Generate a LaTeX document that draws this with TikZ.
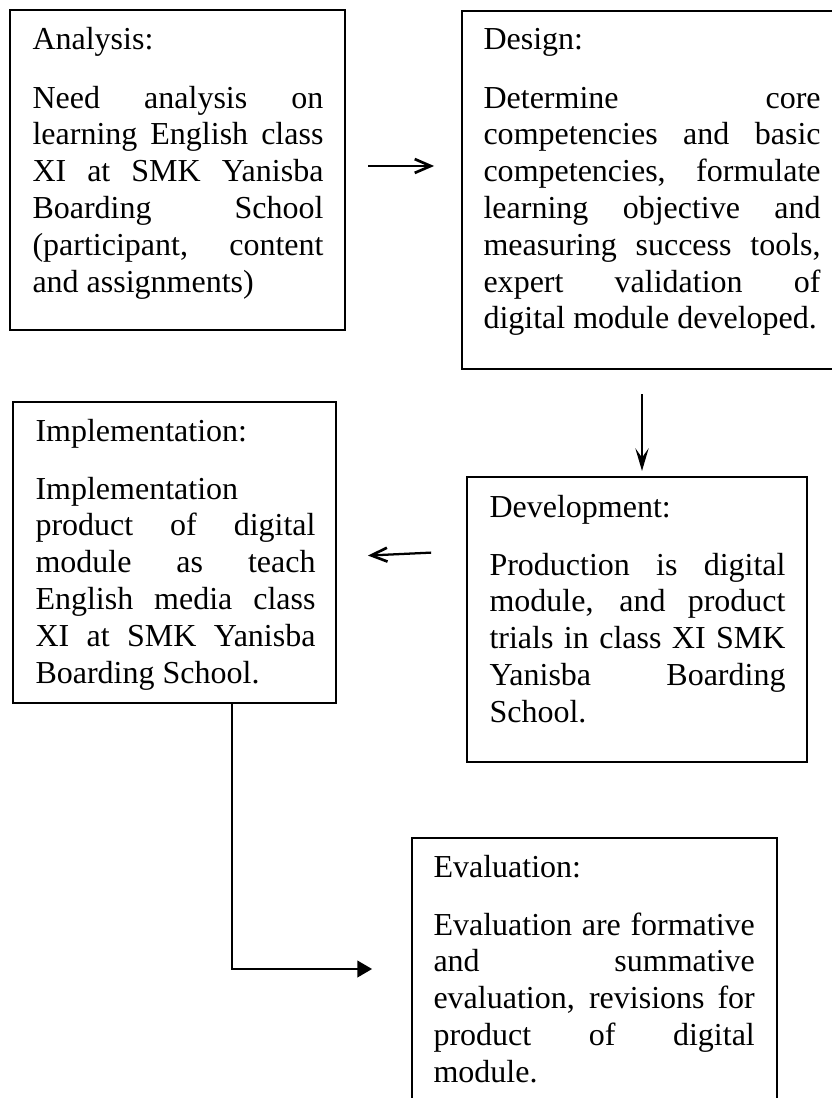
\documentclass[tikz,border=0pt]{standalone}
\usepackage{fontspec}
\setmainfont{Liberation Serif}
\usetikzlibrary{arrows.meta,positioning,fit,calc}
\tolerance=10000
\hyphenpenalty=10000
\hbadness=10000

\begin{document}
\begin{tikzpicture}[x=0.375pt,y=-0.375pt,
    stagebox/.style={draw=black,line width=0.75pt,inner sep=0pt},
    stagetext/.style={anchor=base west,inner sep=0pt,align=justify,
      font=\fontsize{12}{13.8}\selectfont},
    barbarrow/.style={line width=0.85pt,-{Straight Barb[length=6pt,width=5.2pt,line width=1pt]}},
    downarrow/.style={line width=0.85pt,-{Stealth[length=8.5pt,width=5pt,inset=3.5pt]}},
    elbowarrow/.style={line width=0.8pt,-{Triangle[length=5.5pt,width=6.2pt]}}]
    \useasboundingbox (0,0) rectangle (832,1098);
    \clip (0,0) rectangle (832,1098);

    % Stage boxes
    \node[stagebox,fit={(10,10) (345,330)}] (ana) {};
    \node[stagebox,fit={(462,11) (842,369)}] (des) {};
    \node[stagebox,fit={(13,402) (336,703)}] (imp) {};
    \node[stagebox,fit={(467,477) (807,762)}] (dev) {};
    \node[stagebox,fit={(412,838) (777,1130)}] (eva) {};

    % Stage texts
    \node[stagetext,text width=109.1pt] (anatxt) at (32,50) {Analysis:\par\vspace{8pt}
      Need analysis on\linebreak learning English class\linebreak XI at SMK Yanisba\linebreak
      Boarding School\linebreak (participant, content\linebreak and assignments)};
    \node[stagetext,text width=126.4pt] (destxt) at (483,50) {Design:\par\vspace{8pt}
      Determine core\linebreak competencies and basic\linebreak competencies, formulate\linebreak
      learning objective and\linebreak measuring success tools,\linebreak expert validation of\linebreak
      digital module developed.};
    \node[stagetext,text width=105pt] (imptxt) at (35,441) {Implementation:\par\vspace{8pt}
      Implementation\linebreak product of digital\linebreak module as teach\linebreak
      English media class\linebreak XI at SMK Yanisba\linebreak Boarding School.};
    \node[stagetext,text width=111pt] (devtxt) at (489,517) {Development:\par\vspace{8pt}
      Production is digital\linebreak module, and product\linebreak trials in class XI SMK\linebreak
      Yanisba Boarding\linebreak School.};
    \node[stagetext,text width=120.5pt] (evatxt) at (433,877) {Evaluation:\par\vspace{8pt}
      Evaluation are formative\linebreak and summative\linebreak evaluation, revisions for\linebreak
      product of digital\linebreak module.};

    % Connectors
    \coordinate (r1) at (0,166);
    \coordinate (c2) at (642,0);
    \coordinate (r3a) at (0,551);
    \coordinate (r3b) at (0,557);
    \coordinate (c4) at (232,0);
    \coordinate (r4) at (0,969);
    \draw[barbarrow,shorten <=8.25pt,shorten >=10.1pt] (ana.east |- r1) -- (des.west |- r1);
    \draw[downarrow,shorten <=9pt,shorten >=1.9pt] (des.south -| c2) -- (dev.north -| c2);
    \draw[barbarrow,shorten <=13.1pt,shorten >=11.6pt] (dev.west |- r3a) -- (imp.east |- r3b);
    \draw[elbowarrow,shorten >=14.6pt] (imp.south -| c4) |- (eva.west |- r4);
\end{tikzpicture}
\end{document}
